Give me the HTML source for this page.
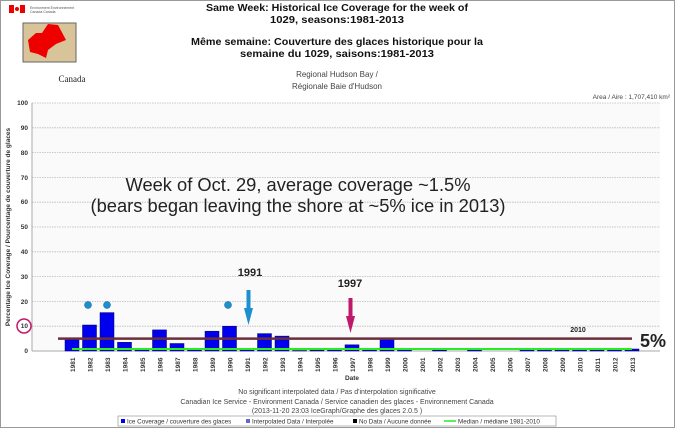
<!DOCTYPE html>
<html><head><meta charset="utf-8"><style>
body{margin:0;width:675px;height:428px;overflow:hidden;background:#fff;font-family:"Liberation Sans",sans-serif}
</style></head><body>
<svg width="675" height="428" xmlns="http://www.w3.org/2000/svg" font-family="Liberation Sans, sans-serif">
<rect x="0.5" y="0.5" width="674" height="427" fill="#fff" stroke="#999"/>
<!-- logo -->
<rect x="9" y="5" width="5" height="8" fill="#e00"/><rect x="14" y="5" width="6" height="8" fill="#fff"/><circle cx="17" cy="9" r="2" fill="#e00"/><rect x="20" y="5" width="5" height="8" fill="#e00"/>
<text x="30" y="9" font-size="3.5" fill="#555">Environment  Environnement</text>
<text x="30" y="13" font-size="3.5" fill="#555">Canada        Canada</text>
<rect x="23" y="23" width="53" height="39" fill="#d9c49a" stroke="#666"/>
<path d="M28 40 L36 33 L42 33 L48 24 L58 25 L66 40 L56 44 L48 50 L46 58 L38 54 L30 52 Z" fill="#e00"/>
<text x="72" y="82" font-size="9" font-family="Liberation Serif, serif" fill="#222" text-anchor="middle">Canada</text>
<!-- titles -->
<g font-weight="bold" font-size="10" text-anchor="middle" fill="#111">
<text x="337" y="11" textLength="262" lengthAdjust="spacingAndGlyphs">Same Week: Historical Ice Coverage for the week of</text>
<text x="337" y="23" textLength="134" lengthAdjust="spacingAndGlyphs">1029, seasons:1981-2013</text>
<text x="337" y="45" textLength="292" lengthAdjust="spacingAndGlyphs">Même semaine: Couverture des glaces historique pour la</text>
<text x="337" y="57" textLength="194" lengthAdjust="spacingAndGlyphs">semaine du 1029, saisons:1981-2013</text>
</g>
<text x="337" y="77" font-size="8" text-anchor="middle" fill="#444">Regional Hudson Bay /</text>
<text x="337" y="89" font-size="8" text-anchor="middle" fill="#444">Régionale Baie d'Hudson</text>
<text x="670" y="99" font-size="6.5" text-anchor="end" fill="#444">Area / Aire : 1,707,410 km²</text>
<!-- plot -->
<rect x="32" y="103" width="628" height="248" fill="#fafafa"/>
<g stroke="#bbb" stroke-dasharray="1.5,1" stroke-width="0.8">
<line x1="32" x2="660" y1="103" y2="103"/><line x1="32" x2="660" y1="127.8" y2="127.8"/><line x1="32" x2="660" y1="152.6" y2="152.6"/><line x1="32" x2="660" y1="177.4" y2="177.4"/><line x1="32" x2="660" y1="202.2" y2="202.2"/><line x1="32" x2="660" y1="227" y2="227"/><line x1="32" x2="660" y1="251.8" y2="251.8"/><line x1="32" x2="660" y1="276.6" y2="276.6"/><line x1="32" x2="660" y1="301.4" y2="301.4"/><line x1="32" x2="660" y1="326.2" y2="326.2"/>
</g>
<line x1="32" x2="32" y1="103" y2="351" stroke="#aaa"/>
<line x1="32" x2="660" y1="351" y2="351" stroke="#aaa"/>
<g font-size="6.5" font-weight="bold" text-anchor="end" fill="#333">
<text x="28" y="105">100</text><text x="28" y="130">90</text><text x="28" y="155">80</text><text x="28" y="180">70</text><text x="28" y="204">60</text><text x="28" y="229">50</text><text x="28" y="254">40</text><text x="28" y="279">30</text><text x="28" y="304">20</text><text x="28" y="328">10</text><text x="28" y="353">0</text>
</g>
<text transform="translate(10,227) rotate(-90)" font-size="6.5" text-anchor="middle" font-weight="bold" fill="#333">Percentage Ice Coverage / Pourcentage de couverture de glaces</text>
<circle cx="24" cy="326" r="7" fill="none" stroke="#c0186a" stroke-width="1.5"/>
<g fill="#0000ee" stroke="#000066" stroke-width="0.5">
<rect x="65" y="338.6" width="14" height="12.4"/>
<rect x="82.5" y="325" width="14" height="26"/>
<rect x="100" y="312.6" width="14" height="38.4"/>
<rect x="117.5" y="342.3" width="14" height="8.7"/>
<rect x="135" y="348.5" width="14" height="2.5"/>
<rect x="152.5" y="329.9" width="14" height="21.1"/>
<rect x="170" y="343.5" width="14" height="7.5"/>
<rect x="187.5" y="349.8" width="14" height="1.2"/>
<rect x="205" y="331.2" width="14" height="19.8"/>
<rect x="222.5" y="326.2" width="14" height="24.8"/>
<rect x="240" y="348.5" width="14" height="2.5"/>
<rect x="257.5" y="333.6" width="14" height="17.4"/>
<rect x="275" y="336.1" width="14" height="14.9"/>
<rect x="292.5" y="350.5" width="14" height="0.5"/>
<rect x="310" y="350.2" width="14" height="0.8"/>
<rect x="327.5" y="349.8" width="14" height="1.2"/>
<rect x="345" y="344.8" width="14" height="6.2"/>
<rect x="362.5" y="349.8" width="14" height="1.2"/>
<rect x="380" y="338.6" width="14" height="12.4"/>
<rect x="397.5" y="348.5" width="14" height="2.5"/>
<rect x="432.5" y="350" width="14" height="1"/>
<rect x="467.5" y="348.5" width="14" height="2.5"/>
<rect x="520" y="348.5" width="14" height="2.5"/>
<rect x="537.5" y="348.5" width="14" height="2.5"/>
<rect x="555" y="348.5" width="14" height="2.5"/>
<rect x="572.5" y="349" width="14" height="2"/>
<rect x="590" y="350" width="14" height="1"/>
<rect x="607.5" y="348.5" width="14" height="2.5"/>
<rect x="625" y="349" width="14" height="2"/>
</g>
<line x1="58" x2="632" y1="338.6" y2="338.6" stroke="#6b2f3a" stroke-width="2.5"/>
<line x1="72" x2="632" y1="349" y2="349" stroke="#22ee22" stroke-width="2"/>
<text x="640" y="347" font-size="18" font-weight="bold" fill="#222">5%</text>
<text x="578" y="332" font-size="7" font-weight="bold" fill="#222" text-anchor="middle">2010</text>
<g fill="#1b8fd0" stroke="#0a5a90" stroke-width="0.5"><circle cx="88" cy="305" r="3.5"/><circle cx="107" cy="305" r="3.5"/><circle cx="228" cy="305" r="3.5"/></g>
<text x="250" y="276" font-size="11" font-weight="bold" text-anchor="middle" fill="#222">1991</text>
<path d="M246.5 290 H250.5 V308 H253 L248.5 325 L244 308 H246.5 Z" fill="#1b8fd0"/>
<text x="350" y="287" font-size="11" font-weight="bold" text-anchor="middle" fill="#222">1997</text>
<path d="M348.5 298 H352.5 V316 H355 L350.5 333 L346 316 H348.5 Z" fill="#c0186a"/>
<text x="298" y="191" font-size="18" text-anchor="middle" fill="#222" textLength="345" lengthAdjust="spacingAndGlyphs">Week of Oct. 29, average coverage ~1.5%</text>
<text x="298" y="212" font-size="18" text-anchor="middle" fill="#222" textLength="415" lengthAdjust="spacingAndGlyphs">(bears began leaving the shore at ~5% ice in 2013)</text>
<!-- x labels -->
<g font-size="6.5" font-weight="bold" fill="#333">
<text transform="translate(75,372) rotate(-90)">1981</text><text transform="translate(92.5,372) rotate(-90)">1982</text><text transform="translate(110,372) rotate(-90)">1983</text><text transform="translate(127.5,372) rotate(-90)">1984</text><text transform="translate(145,372) rotate(-90)">1985</text><text transform="translate(162.5,372) rotate(-90)">1986</text><text transform="translate(180,372) rotate(-90)">1987</text><text transform="translate(197.5,372) rotate(-90)">1988</text><text transform="translate(215,372) rotate(-90)">1989</text><text transform="translate(232.5,372) rotate(-90)">1990</text><text transform="translate(250,372) rotate(-90)">1991</text><text transform="translate(267.5,372) rotate(-90)">1992</text><text transform="translate(285,372) rotate(-90)">1993</text><text transform="translate(302.5,372) rotate(-90)">1994</text><text transform="translate(320,372) rotate(-90)">1995</text><text transform="translate(337.5,372) rotate(-90)">1996</text><text transform="translate(355,372) rotate(-90)">1997</text><text transform="translate(372.5,372) rotate(-90)">1998</text><text transform="translate(390,372) rotate(-90)">1999</text><text transform="translate(407.5,372) rotate(-90)">2000</text><text transform="translate(425,372) rotate(-90)">2001</text><text transform="translate(442.5,372) rotate(-90)">2002</text><text transform="translate(460,372) rotate(-90)">2003</text><text transform="translate(477.5,372) rotate(-90)">2004</text><text transform="translate(495,372) rotate(-90)">2005</text><text transform="translate(512.5,372) rotate(-90)">2006</text><text transform="translate(530,372) rotate(-90)">2007</text><text transform="translate(547.5,372) rotate(-90)">2008</text><text transform="translate(565,372) rotate(-90)">2009</text><text transform="translate(582.5,372) rotate(-90)">2010</text><text transform="translate(600,372) rotate(-90)">2011</text><text transform="translate(617.5,372) rotate(-90)">2012</text><text transform="translate(635,372) rotate(-90)">2013</text>
</g>
<text x="352" y="380" font-size="6.5" font-weight="bold" text-anchor="middle" fill="#333">Date</text>
<g font-size="7" text-anchor="middle" fill="#444">
<text x="337" y="394">No significant interpolated data / Pas d'interpolation significative</text>
<text x="337" y="404">Canadian Ice Service - Environment Canada / Service canadien des glaces - Environnement Canada</text>
<text x="337" y="413">(2013-11-20 23:03 IceGraph/Graphe des glaces 2.0.5 )</text>
</g>
<rect x="118" y="416" width="438" height="10" fill="#fff" stroke="#888" stroke-width="0.6"/>
<g font-size="6.3" fill="#333">
<rect x="121" y="419" width="4" height="4" fill="#00e"/><text x="127" y="423.5">Ice Coverage / couverture des glaces</text>
<rect x="246" y="419" width="4" height="4" fill="#66c"/><text x="252" y="423.5">Interpolated Data / Interpolée</text>
<rect x="353" y="419" width="4" height="4" fill="#000"/><text x="359" y="423.5">No Data / Aucune donnée</text>
<line x1="444" x2="456" y1="421" y2="421" stroke="#2e2" stroke-width="1.5"/><text x="458" y="423.5">Median / médiane 1981-2010</text>
</g>
</svg>
</body></html>
